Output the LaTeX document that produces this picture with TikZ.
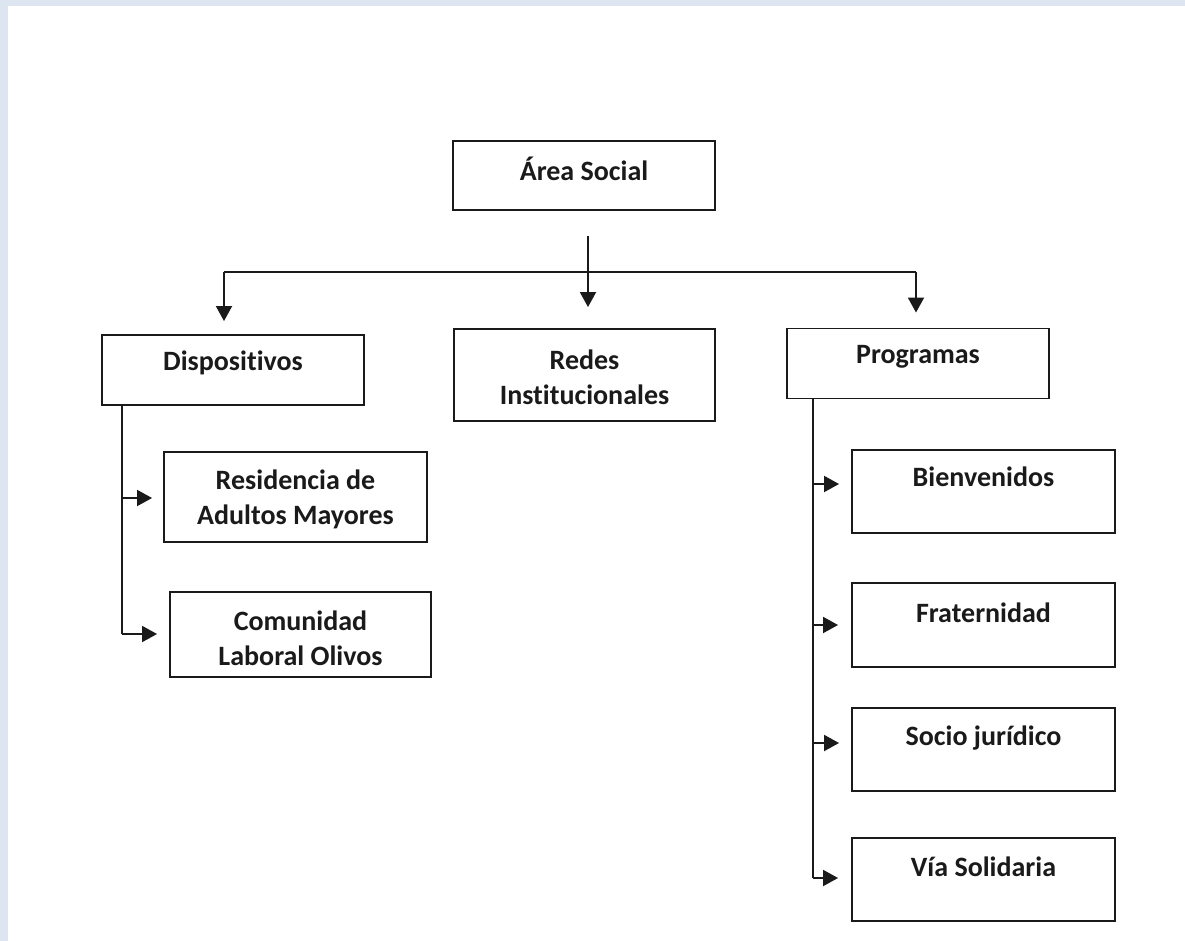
\documentclass[tikz,border=0pt]{standalone}
\usepackage{fontspec}
\setmainfont{Carlito}[Ligatures=NoCommon]
\usetikzlibrary{arrows.meta}
\definecolor{bandblue}{HTML}{DCE5F0}
\definecolor{ink}{HTML}{1A1A1A}
\tikzset{
  box/.style={draw=ink, line width=1.9pt, rectangle, inner sep=0pt},
  txt/.style={font=\fontsize{28}{35}\selectfont\bfseries, text=ink, align=center, inner sep=0pt},
  conn/.style={draw=ink, line width=1.9pt},
  arrowto/.style={conn, -{Triangle[length=15pt,width=16pt]}}
}
\begin{document}
\begin{tikzpicture}[x=1pt,y=-1pt]
\useasboundingbox (0,0) rectangle (1185,941);
\fill[bandblue] (0,0) rectangle (1185,941);
\fill[white] (8,6) rectangle (1185,941);

% boxes
\node[box, minimum width=262pt, minimum height=69pt] (area) at (584,175.5) {};
\node[box, minimum width=262pt, minimum height=70pt] (disp) at (233,370) {};
\node[box, minimum width=261pt, minimum height=92pt] (redes) at (584.5,375) {};
\node[box, minimum width=262pt, minimum height=70pt] (prog) at (918,363.5) {};
\node[box, minimum width=263pt, minimum height=90pt] (resid) at (295.5,497) {};
\node[box, minimum width=261pt, minimum height=85pt] (comun) at (300.5,634.5) {};
\node[box, minimum width=263pt, minimum height=83pt] (bienv) at (983.5,491.5) {};
\node[box, minimum width=263pt, minimum height=84pt] (frat) at (983.5,625) {};
\node[box, minimum width=263pt, minimum height=83pt] (socio) at (983.5,749.5) {};
\node[box, minimum width=263pt, minimum height=83pt] (via) at (983.5,879.5) {};

% texts
\node[txt] (area-t) at (584,169) {Área Social};
\node[txt] (disp-t) at (233,363) {Dispositivos};
\node[txt] (redes-t) at (584.5,377) {Redes\\Institucionales};
\node[txt] (prog-t) at (918,357) {Programas};
\node[txt] (resid-t) at (295.5,499) {Residencia de\\Adultos Mayores};
\node[txt] (comun-t) at (300.5,638) {Comunidad\\Laboral Olivos};
\node[txt] (bienv-t) at (983.5,477) {Bienvenidos};
\node[txt] (frat-t) at (983.5,613) {Fraternidad};
\node[txt] (socio-t) at (983.5,738) {Socio jurídico};
\node[txt] (via-t) at (983.5,867) {Vía Solidaria};

% top connectors
\coordinate (hub) at (588,236);
\coordinate (bl) at (224,272);
\coordinate (br) at (916,272);
\draw[arrowto, shorten >=21pt] (hub) -- (hub |- redes.north);
\draw[conn] (bl) -- (br);
\draw[arrowto, shorten >=13pt] (bl) -- (bl |- disp.north);
\draw[arrowto, shorten >=15pt] (br) -- (br |- prog.north);

% Dispositivos trunk
\coordinate (dtop) at (122,405);
\coordinate (d1) at (122,498);
\coordinate (d2) at (122,634);
\draw[conn] (dtop) -- (d2);
\draw[arrowto, shorten >=11pt] (d1) -- (d1 -| resid.west);
\draw[arrowto, shorten >=12pt] (d2) -- (d2 -| comun.west);

% Programas trunk
\coordinate (ptop) at (813,399);
\coordinate (p1) at (813,484);
\coordinate (p2) at (813,625);
\coordinate (p3) at (813,743);
\coordinate (p4) at (813,878);
\draw[conn] (ptop) -- (p4);
\draw[arrowto, shorten >=12pt] (p1) -- (p1 -| bienv.west);
\draw[arrowto, shorten >=13pt] (p2) -- (p2 -| frat.west);
\draw[arrowto, shorten >=12pt] (p3) -- (p3 -| socio.west);
\draw[arrowto, shorten >=13pt] (p4) -- (p4 -| via.west);
\end{tikzpicture}
\end{document}
